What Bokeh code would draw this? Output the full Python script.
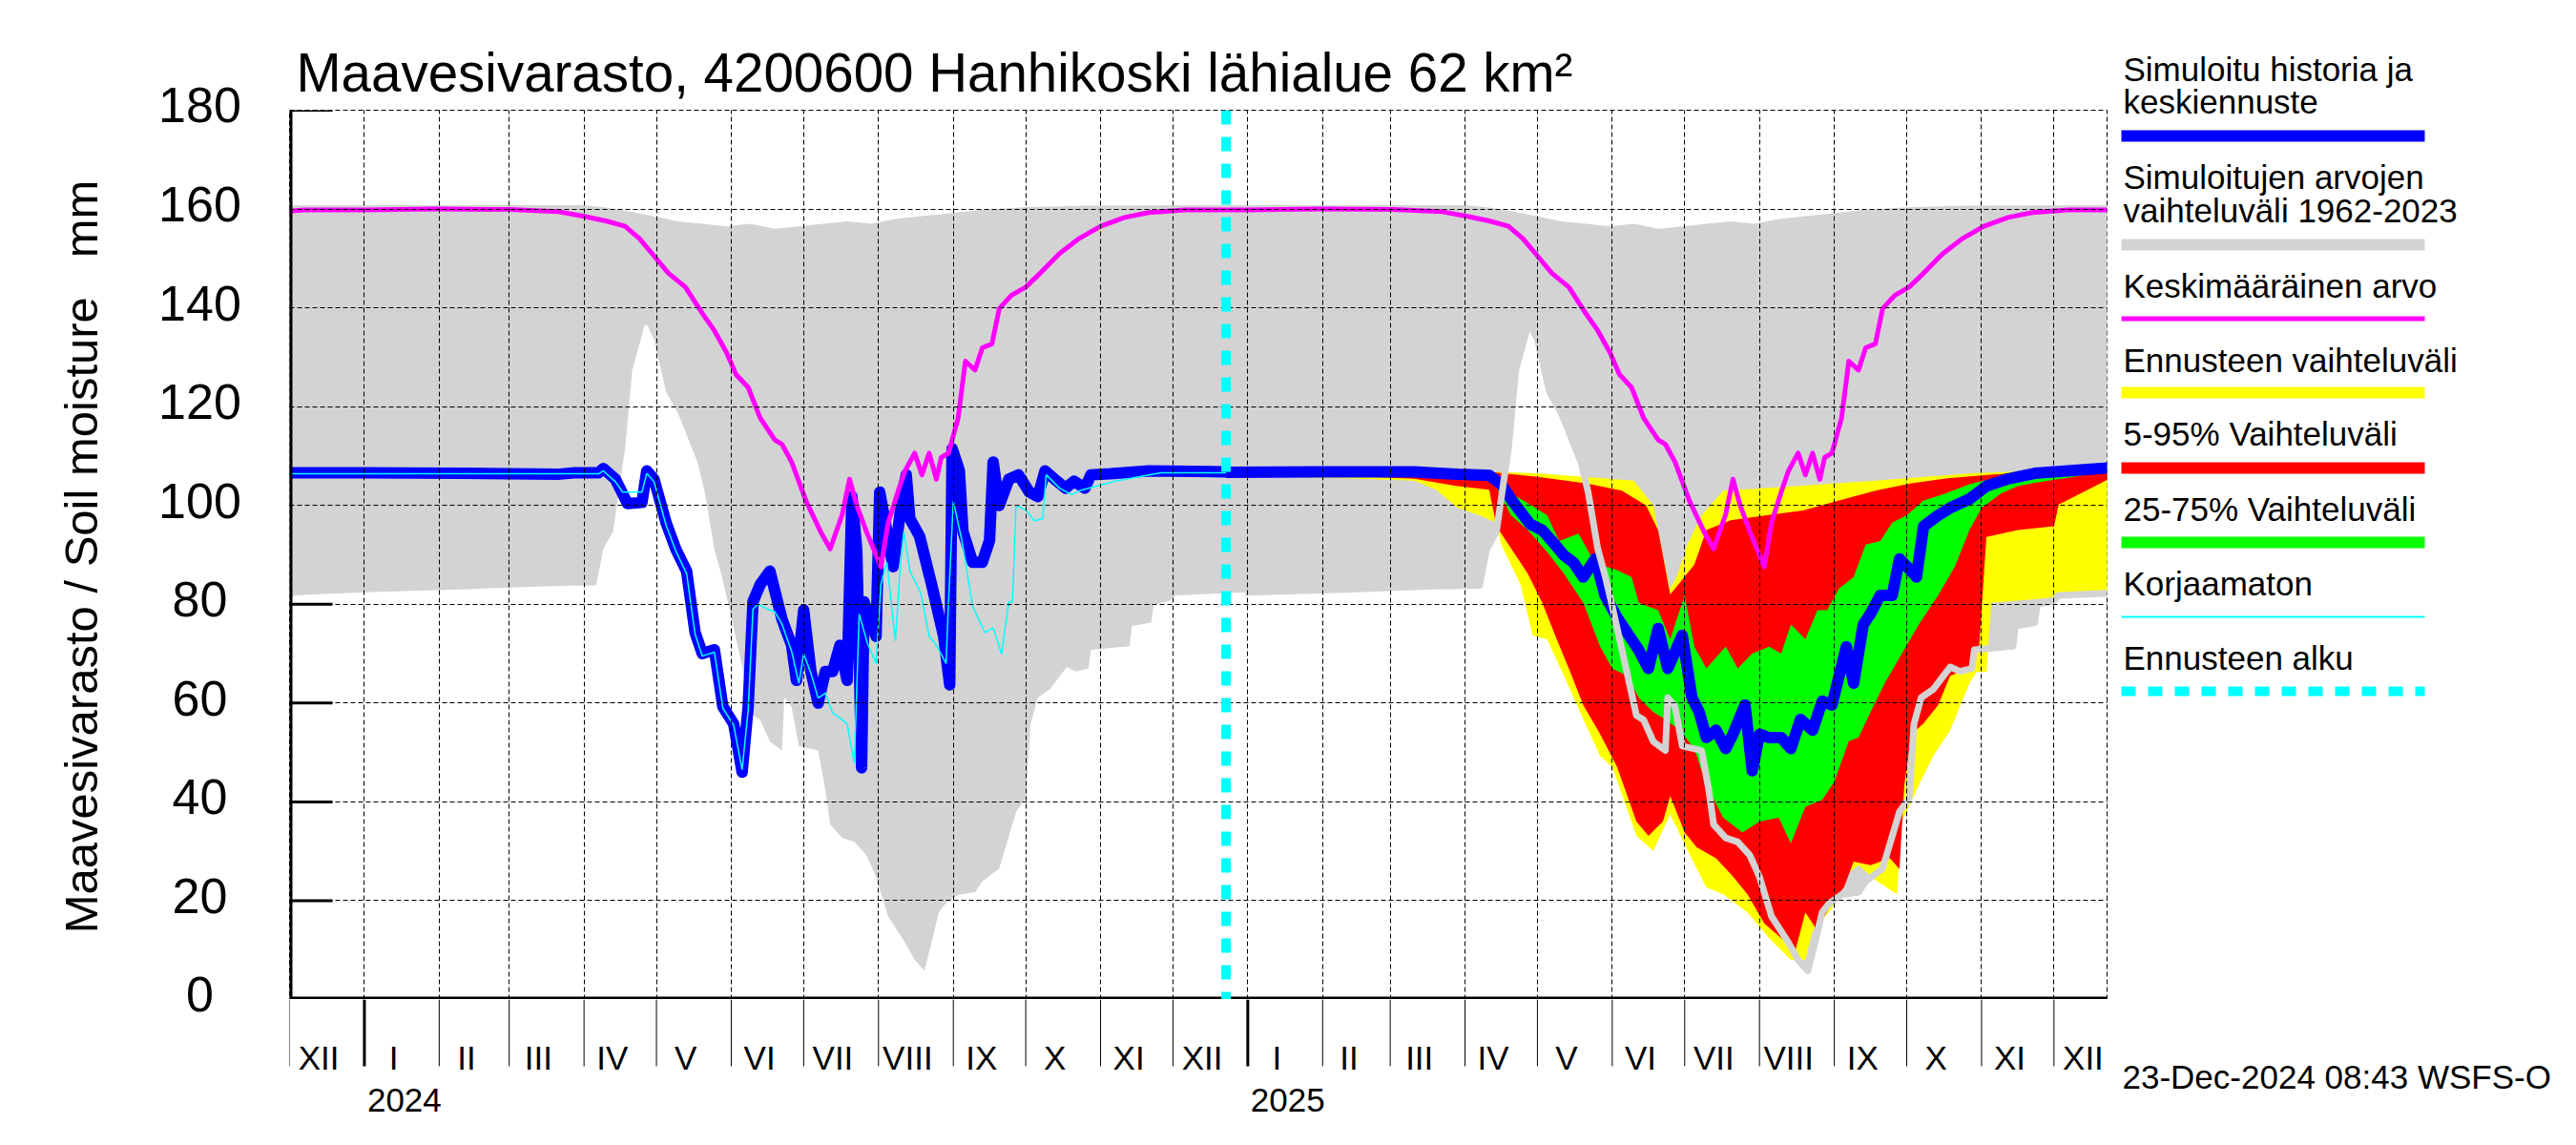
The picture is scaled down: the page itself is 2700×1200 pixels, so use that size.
import numpy as np
import pandas as pd
from math import pi
from bokeh.plotting import figure
from bokeh.models import Range1d, FixedTicker, Span, Grid, Title
from bokeh.layouts import row, column
from bokeh.core.properties import value
from bokeh.embed import file_html
from bokeh.resources import INLINE

# ---------------- data ----------------
X_START = "2023-12-01"
X_END = "2025-12-23"
FORECAST_START = "2024-12-23"
Y_TICKS = [0, 20, 40, 60, 80, 100, 120, 140, 160, 180]
MONTH_NAMES = ["I", "II", "III", "IV", "V", "VI", "VII", "VIII", "IX", "X", "XI", "XII"]
YEAR_LABELS = ["2024", "2025"]

TITLE = "Maavesivarasto, 4200600 Hanhikoski lähialue 62 km²"
Y_LABEL = "Maavesivarasto / Soil moisture \u00a0 mm"
STAMP = "23-Dec-2024 08:43 WSFS-O"
LEGEND_LABELS = [
    ["Simuloitu historia ja", "keskiennuste"],
    ["Simuloitujen arvojen", "vaihteluväli 1962-2023"],
    ["Keskimääräinen arvo"],
    ["Ennusteen vaihteluväli"],
    ["5-95% Vaihteluväli"],
    ["25-75% Vaihteluväli"],
    ["Korjaamaton"],
    ["Ennusteen alku"],
]

# climatology 1962-2023 (day of year, 0 = 1 Jan)
env_low_doy = [0, 40, 80, 96, 99, 103, 108, 111, 116, 117, 120, 125, 130, 138, 141, 145, 148, 151, 155,
               161, 164, 168, 173, 174, 177, 180, 188, 191, 193, 198, 203, 208, 212, 217, 224, 228, 232,
               235, 238, 241, 246, 253, 256, 263, 270, 274, 276, 279, 284, 291, 295, 300, 301, 317, 318,
               326, 327, 334, 336, 365]
env_low_val = [82.4, 83.0, 83.7, 83.8, 91.2, 94.7, 111.5, 127.4, 136.3, 136.7, 133.6, 123.0, 118.6, 108.8,
               102.7, 91.2, 85.8, 79.6, 70.8, 57.5, 56.6, 52.2, 50.4, 61.1, 59.3, 51.3, 50.4, 42.4, 35.4,
               32.7, 31.9, 29.2, 24.8, 16.8, 11.5, 8.0, 5.8, 11.5, 17.7, 19.5, 21.2, 21.7, 23.9, 26.5,
               38.0, 40.7, 55.8, 61.1, 62.8, 67.3, 66.4, 67.0, 70.8, 71.5, 75.6, 76.3, 79.9, 80.8, 81.8, 82.4]
env_up_doy = [0, 90, 100, 110, 120, 130, 140, 150, 160, 170, 180, 190, 200, 210, 220, 230, 240, 255, 275,
              300, 365]
env_up_val = [160.8, 160.8, 160.3, 159.5, 158.5, 157.5, 157.0, 156.5, 157.0, 156.0, 156.5, 157.0, 157.5,
              157.0, 158.0, 158.5, 159.0, 159.8, 160.4, 160.7, 160.8]
mean_doy = [0, 30, 60, 80, 90, 100, 108, 114, 120, 126, 133, 140, 145, 150, 154, 159, 164, 170, 173, 177,
            183, 189, 193, 198, 201, 204, 208, 214, 217, 221, 224, 228, 231, 234, 237, 239, 242, 246, 249,
            253, 256, 260, 263, 268, 274, 280, 288, 296, 305, 315, 325, 340, 365]
mean_val = [159.8, 160.0, 159.9, 159.5, 158.6, 157.6, 156.5, 154.0, 150.5, 147.0, 144.2, 138.9, 135.4,
            131.0, 126.5, 123.9, 117.7, 113.3, 112.4, 108.8, 100.9, 94.7, 91.2, 98.2, 105.3, 100.0, 94.7,
            87.6, 96.5, 102.7, 107.0, 110.6, 106.2, 110.6, 105.3, 109.7, 110.6, 117.7, 129.2, 127.4, 131.9,
            132.7, 139.8, 142.5, 144.2, 147.0, 151.0, 154.0, 156.5, 158.3, 159.3, 159.8, 159.8]

# simulated history (days from 1 Jan 2024)
hist_day = [-31, 0, 40, 80, 87, 97, 99, 104, 109, 115, 117, 120, 125, 129, 133.5, 137, 140, 145, 148.5, 153,
            156.5, 159, 161, 164, 168, 173, 177, 179, 182, 185, 188, 191, 194, 197, 200, 202, 204, 206, 207,
            209, 212, 213.5, 216.5, 219, 221, 223, 224.5, 226, 230, 235, 240, 242.5, 243.5, 246.5, 248, 252,
            256, 259, 260.5, 263, 267, 271, 275.5, 279, 282, 286, 290.5, 294, 298.5, 301, 309, 325, 357]
hist_val = [106.6, 106.6, 106.5, 106.3, 106.6, 106.6, 107.5, 105.3, 100.4, 100.6, 107.0, 105.3, 96.5, 91.2,
            86.7, 74.3, 70.0, 70.8, 59.3, 55.8, 46.0, 59.3, 80.5, 84.0, 86.7, 77.0, 71.7, 64.6, 78.8, 66.4,
            60.0, 66.4, 66.4, 71.7, 64.6, 101.8, 91.0, 46.9, 80.5, 77.0, 73.5, 102.7, 94.7, 87.6, 94.7, 102.7,
            106.2, 97.3, 93.8, 84.0, 73.5, 63.7, 111.5, 107.0, 94.7, 88.5, 88.5, 92.9, 108.8, 100.0, 105.3,
            106.2, 102.7, 101.8, 107.0, 105.3, 103.5, 104.9, 103.5, 106.2, 106.4, 107.0, 106.8]
# uncorrected simulation (days from 1 Jan 2024)
raw_day = [-31, 87, 97, 99, 104, 107, 109, 115, 117, 120, 125, 129, 133.5, 137, 140, 145, 148.5, 153, 156.5,
           159, 161, 163, 167, 170, 173, 177, 180, 182, 185, 188, 191, 194, 197, 200, 203, 205, 208.5, 212,
           214, 216.5, 220, 222, 223.5, 226, 230.5, 234, 237, 241, 242, 244, 247.5, 252, 257, 260.5, 264,
           267, 268.5, 270, 274, 277.5, 281, 282.5, 288, 293, 297, 304, 311, 330, 357]
raw_val = [106.4, 106.4, 106.4, 107.0, 104.8, 102.7, 102.7, 102.7, 106.5, 104.8, 96.0, 90.8, 86.2, 74.0,
           69.5, 70.3, 59.0, 55.5, 46.5, 58.5, 79.0, 80.0, 79.0, 78.5, 76.0, 70.5, 64.0, 70.0, 66.0, 61.0,
           62.0, 58.0, 57.0, 55.8, 47.8, 78.0, 72.0, 68.0, 84.0, 88.5, 72.6, 87.6, 94.7, 86.7, 82.3, 73.5,
           71.7, 68.0, 80.5, 100.9, 93.0, 79.6, 74.3, 75.2, 69.9, 80.5, 80.5, 100.0, 99.1, 96.9, 97.3, 106.2,
           103.5, 102.2, 103.1, 104.0, 104.9, 106.6, 106.6]

# forecast (days from 1 Jan 2025)
med_day = [-9, 30, 69, 87, 100, 105, 109, 113, 117, 122, 126, 131, 135, 139, 144, 148, 153, 159, 162, 166,
           170, 174, 180, 184, 187, 190, 194, 198, 201, 206, 209, 212, 216, 221, 225, 229, 234, 238, 242, 245,
           248, 251, 255, 258, 262, 267, 270, 273, 277, 280, 286, 291, 299, 306, 315, 326, 345, 357]
med_val = [106.7, 106.8, 106.8, 106.3, 106.1, 104.3, 101.3, 98.7, 96.2, 95.0, 92.8, 89.9, 88.4, 85.5, 89.2,
           81.8, 77.3, 72.9, 70.7, 67.0, 75.1, 67.0, 73.7, 61.1, 58.2, 53.0, 54.5, 50.8, 53.7, 59.6, 46.3,
           53.7, 53.0, 53.0, 50.8, 56.7, 54.5, 60.4, 59.6, 65.5, 71.4, 64.0, 75.9, 78.1, 81.8, 81.8, 89.2, 87.7,
           85.5, 95.8, 98.0, 99.5, 101.3, 103.9, 105.4, 106.5, 107.2, 107.6]
p75_day = [-9, 69, 100, 102, 109, 117, 124, 129, 137, 142, 148, 153, 159, 162, 170, 175, 181, 185, 190, 198,
           203, 209, 216, 221, 225, 231, 236, 240, 245, 251, 256, 262, 267, 273, 280, 289, 299, 308, 326, 357]
p75_val = [107.0, 107.2, 106.8, 106.3, 102.4, 100.2, 98.0, 92.8, 94.3, 89.9, 87.7, 86.9, 85.5, 80.3, 78.8,
           72.9, 81.8, 71.4, 67.0, 71.4, 67.0, 70.0, 71.4, 70.0, 75.9, 72.9, 78.8, 78.8, 83.2, 85.5, 92.1, 92.8,
           96.5, 98.0, 101.0, 102.4, 104.3, 105.4, 106.1, 107.8]
p25_day = [-9, 69, 100, 102, 109, 116, 124, 131, 139, 146, 151, 157, 162, 168, 173, 179, 185, 190, 197, 205,
           212, 220, 225, 231, 238, 243, 249, 253, 258, 264, 271, 278, 286, 293, 299, 304, 312, 319, 326, 357]
p25_val = [106.5, 106.5, 106.0, 104.6, 98.0, 95.0, 90.6, 86.2, 80.3, 71.4, 67.0, 65.5, 61.1, 58.2, 56.7,
           54.5, 50.8, 43.4, 36.8, 33.8, 36.0, 36.8, 31.6, 39.0, 40.4, 44.1, 52.3, 53.0, 58.2, 64.1, 70.0,
           75.9, 81.8, 87.7, 95.0, 99.5, 102.4, 103.9, 104.6, 106.9]
p95_day = [-9, 69, 100, 120, 140, 155, 165, 170, 175, 180, 185, 190, 200, 215, 230, 245, 260, 275, 290, 310,
           357]
p95_val = [107.0, 107.0, 106.8, 105.8, 104.5, 103.0, 100.0, 95.0, 82.0, 85.0, 88.0, 95.0, 97.0, 98.0, 99.0,
           101.0, 103.0, 104.5, 105.5, 106.3, 107.3]
p05_day = [-9, 40, 69, 87, 100, 103, 111, 116, 122, 128, 133, 139, 146, 153, 161, 166, 172, 175, 181, 186,
           194, 201, 207, 214, 221, 227, 231, 236, 242, 247, 251, 258, 266, 270, 272, 275, 280, 286, 291, 299,
           303, 306, 319, 334, 336, 357]
p05_val = [106.3, 106.0, 105.4, 103.9, 103.2, 95.8, 89.9, 86.2, 80.3, 72.9, 67.0, 59.6, 53.7, 47.1, 36.0,
           33.1, 36.0, 41.2, 33.8, 30.8, 28.6, 24.9, 21.3, 15.4, 12.4, 10.2, 17.6, 13.9, 19.8, 22.7, 27.9,
           27.2, 28.6, 26.4, 43.4, 53.7, 55.9, 59.6, 65.5, 67.0, 71.4, 93.6, 95.0, 95.8, 100.2, 105.4]
max_day = [-9, 69, 120, 160, 168, 172, 175, 178, 182, 188, 197, 230, 260, 300, 357]
max_val = [107.3, 107.3, 106.5, 105.0, 100.0, 90.0, 83.0, 86.0, 92.0, 98.0, 103.0, 104.0, 105.0, 106.5, 107.6]
min_day = [-9, 40, 69, 78, 87, 96, 103, 105, 113, 118, 124, 131, 139, 146, 151, 161, 168, 175, 183, 190,
           197, 207, 216, 225, 231, 234, 242, 249, 253, 260, 269, 271, 278, 284, 291, 299, 302, 306, 308,
           326, 357]
min_val = [106.0, 105.5, 105.0, 103.2, 99.5, 98.0, 96.5, 92.1, 84.0, 73.7, 72.9, 65.5, 56.7, 49.3, 47.1,
           33.1, 30.1, 37.5, 29.4, 22.7, 21.3, 17.6, 12.4, 8.0, 8.0, 13.9, 18.4, 25.7, 27.2, 24.2, 21.3, 36.0,
           43.4, 49.3, 54.5, 64.0, 66.3, 66.3, 80.3, 81.0, 82.5]

# ---------------- helpers ----------------
DAY_MS = 86400000.0

def ms(ts):
    return float(pd.Timestamp(ts).value // 10**6)

def days_to_ms(base, days):
    b = ms(base)
    return [b + float(d) * DAY_MS for d in days]

X0, X1 = ms(X_START), ms(X_END)
FC0 = ms(FORECAST_START)

# page geometry in pixels (the Bokeh page template removes the body margin)
FL, FR, FT, FB = 303, 2208, 115, 1047      # plot frame edges
PAGE_L, PAGE_T, PAGE_R, PAGE_B = 0, 0, 2684, 1184
MID_R = 2218                                 # right edge of the middle column
MS_PER_PX = (X1 - X0) / (FR - FL)
U_PER_PX = 180.0 / (FB - FT)
MID_K = 0.3465      # em distance from alphabetic baseline up to the middle of the em box

def px_y(page_y):
    return (FB - page_y) * U_PER_PX

def clim(doys, vals, years=(2023, 2024, 2025)):
    xs, ys = [], []
    lo, hi = X0 - 70 * DAY_MS, X1 + 70 * DAY_MS
    for yr in years:
        base = ms(pd.Timestamp(year=yr, month=1, day=1))
        for d, v in zip(doys, vals):
            t = base + d * DAY_MS
            if lo <= t <= hi:
                xs.append(t)
                ys.append(v)
    return xs, ys

FONT = "Liberation Sans"

def blank_fig(width, height, x_range, y_range, **kw):
    f = figure(width=width, height=height, x_range=x_range, y_range=y_range, title=None,
               toolbar_location=None, output_backend="svg", x_axis_location=None,
               y_axis_location=None, frame_align=False, **kw)
    f.outline_line_color = None
    f.background_fill_color = "white"
    f.border_fill_color = "white"
    for g in f.grid:
        g.visible = False
    return f

def txt(f, x, y, s, size, align="left", angle=0.0):
    f.text(x=[x], y=[y], text=[s], text_font=value(FONT), text_font_size=value(f"{size}px"),
           text_align=align, text_baseline="middle", angle=angle, text_color="black",
           text_line_height=1.0)

def txt_page(f, x, baseline_page_y, s, size, align="left"):
    # y axis of the strip runs downwards in page pixels
    txt(f, x, baseline_page_y - MID_K * size, s, size, align)

# ---------------- main plot ----------------
MAIN_W = MID_R - FL
p = blank_fig(MAIN_W, FB - PAGE_T, Range1d(X0, X1), Range1d(0, 180),
              min_border_left=0, min_border_right=MID_R - FR, min_border_top=FT - PAGE_T,
              min_border_bottom=0)
p.outline_line_color = "black"
p.outline_line_dash = "5 3"
p.outline_line_width = 1
p.add_layout(Title(text=TITLE, align="left", offset=7, standoff=16, text_font=FONT,
                   text_font_size="56.5px", text_font_style="normal", text_color="black"), "above")

# inward y ticks (drawn beneath the data)
tick_len = 45 * MS_PER_PX
p.segment(x0=[X0] * len(Y_TICKS), y0=Y_TICKS, x1=[X0 + tick_len] * len(Y_TICKS), y1=Y_TICKS,
          line_color="black", line_width=3)

# historical envelope
ux, uy = clim(env_up_doy, env_up_val)
lx, ly = clim(env_low_doy, env_low_val)
p.patch(ux + lx[::-1], uy + ly[::-1], fill_color="#d3d3d3", line_color=None)

def band(hd, hv, ld, lv, color):
    hx = days_to_ms("2025-01-01", hd)
    lxx = days_to_ms("2025-01-01", ld)
    p.patch(hx + lxx[::-1], list(hv) + list(lv)[::-1], fill_color=color, line_color=None)

band(max_day, max_val, min_day, min_val, "#ffff00")
band(p95_day, p95_val, p05_day, p05_val, "#ff0000")
band(p75_day, p75_val, p25_day, p25_val, "#00ff00")

p.line(days_to_ms("2024-01-01", hist_day), hist_val, line_color="#0000ff", line_width=12, line_join="round")
p.line(days_to_ms("2024-01-01", raw_day), raw_val, line_color="#00ffff", line_width=1.5)
p.line(days_to_ms("2025-01-01", med_day), med_val, line_color="#0000ff", line_width=12, line_join="round")

fx = [x for x in lx if x >= FC0]
fy = [y for x, y in zip(lx, ly) if x >= FC0]
p.line(fx, fy, line_color="#d3d3d3", line_width=7, line_join="round")

mx, my = clim(mean_doy, mean_val)
p.line(mx, my, line_color="#ff00ff", line_width=5, line_join="round")

# solid left / bottom axis lines (half of a 6px line is inside the frame)
p.line([X0, X0], [0, 180], line_color="black", line_width=6)
p.line([X0, X1], [0, 0], line_color="black", line_width=6)

months = pd.date_range(X_START, X_END, freq="MS")
month_ms = [ms(m) for m in months]
jan_ms = [ms(m) for m in months if m.month == 1]

p.add_layout(Grid(dimension=0, ticker=FixedTicker(ticks=month_ms), grid_line_color="black",
                  grid_line_dash="5 3", grid_line_width=1, level="guide"))
p.add_layout(Grid(dimension=1, ticker=FixedTicker(ticks=Y_TICKS[1:-1]), grid_line_color="black",
                  grid_line_dash="5 3", grid_line_width=1, level="guide"))

p.add_layout(Span(location=FC0, dimension="height", line_color="#00ffff", line_width=10, line_dash="15 13"))

# ---------------- time axis strip ----------------
bot = blank_fig(MAIN_W, PAGE_B - FB, p.x_range, Range1d(PAGE_B, FB),
                min_border_left=0, min_border_right=MID_R - FR, min_border_top=0, min_border_bottom=0)
non_jan = [m for m in month_ms if m not in jan_ms]
bot.segment(x0=non_jan, y0=[FB] * len(non_jan), x1=non_jan, y1=[1117] * len(non_jan),
            line_color="black", line_width=1)
bot.segment(x0=jan_ms, y0=[FB] * len(jan_ms), x1=jan_ms, y1=[1117] * len(jan_ms),
            line_color="black", line_width=3)
for m in months:
    cx = ms(m) + 0.39 * m.days_in_month * DAY_MS
    txt_page(bot, cx, 1120, MONTH_NAMES[m.month - 1], 35, align="center")
for j, lab in zip(jan_ms, YEAR_LABELS):
    txt_page(bot, j + 3 * MS_PER_PX, 1165, lab, 35)

# ---------------- y-axis strip ----------------
left = blank_fig(FL - PAGE_L, PAGE_B - PAGE_T, Range1d(PAGE_L, FL), Range1d(px_y(PAGE_B), px_y(PAGE_T)),
                 min_border=0)
for v in Y_TICKS:
    base_page = (FB - v / U_PER_PX) + 13
    txt(left, 209, px_y(base_page - MID_K * 52), str(v), 52, align="center")
txt(left, 84, px_y(583), Y_LABEL, 49, align="center", angle=pi / 2)

# ---------------- legend strip ----------------
lg = blank_fig(PAGE_R - MID_R, PAGE_B - PAGE_T, Range1d(MID_R, PAGE_R), Range1d(PAGE_B, PAGE_T),
               min_border=0)
text_baselines = [[84, 118], [197, 232], [311], [389], [466], [545], [623], [701]]
bar_y = [142, 256, 333.5, 411, 490, 568, 646, 724]
bar_style = [("#0000ff", 12, "solid"), ("#d3d3d3", 12, "solid"), ("#ff00ff", 5, "solid"),
             ("#ffff00", 12, "solid"), ("#ff0000", 12, "solid"), ("#00ff00", 12, "solid"),
             ("#00ffff", 2, "solid"), ("#00ffff", 10, "15 13")]
for labels, bls, by, (col, w, dash) in zip(LEGEND_LABELS, text_baselines, bar_y, bar_style):
    for t, b in zip(labels, bls):
        txt_page(lg, 2225, b, t, 35)
    lg.line([2223, 2541], [by, by], line_color=col, line_width=w, line_dash=dash, line_cap="butt")
txt_page(lg, 2224, 1140, STAMP, 35)

layout = row(left, column(p, bot), lg)
open("out.html", "w", encoding="utf-8").write(file_html(layout, INLINE))
